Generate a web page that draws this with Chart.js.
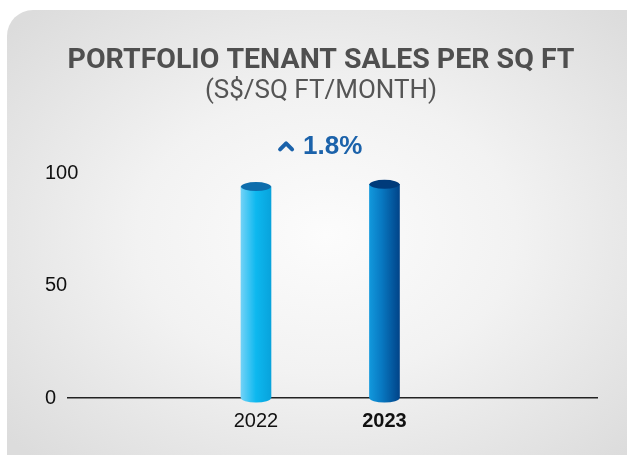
<!DOCTYPE html>
<html>
<head>
<meta charset="utf-8">
<script src="https://cdn.jsdelivr.net/npm/chart.js@4.4.1/dist/chart.umd.min.js"></script>
<style>
  html, body { margin: 0; padding: 0; background: #fff; overflow: hidden; }
  .card {
    position: absolute; left: 7px; top: 10px; width: 680px; height: 500px;
    border-radius: 26px;
    background: radial-gradient(ellipse 62% 62% at 47% 45%, #fcfcfc 0%, #f2f2f2 45%, #dcdcdc 100%);
  }
  #chart { position: absolute; left: 0; top: 0; }
</style>
</head>
<body>
<div class="card"><canvas id="chart" width="626" height="445"></canvas></div>
<script>
// values
const years = [2022, 2023];
const salesPerSqFt = [94, 95];
const yTicks = [0, 50, 100];
const growthLabel = '1.8%';
const titleText = 'PORTFOLIO TENANT SALES PER SQ FT';
const subtitleText = '(S$/SQ FT/MONTH)';

const bodyStops = [
    [[0, '#72d2f7'], [0.25, '#3ec5f3'], [0.5, '#0db8ef'], [1, '#08a3dc']],
    [[0, '#1298dc'], [0.4, '#0879c2'], [1, '#014489']],
];
const capColors = ['#0e6dac', '#003b7a'];

function bodyGradient(ctx, x, w, i) {
    const g = ctx.createLinearGradient(x - w / 2, 0, x + w / 2, 0);
    bodyStops[i].forEach(([p, c]) => g.addColorStop(p, c));
    return g;
}

const cylinderPlugin = {
    id: 'cylinder',
    afterDatasetsDraw(chart) {
        const ctx = chart.ctx;
        const meta = chart.getDatasetMeta(0);
        meta.data.forEach((bar, i) => {
            const w = bar.width, rx = w / 2, ry = 4.5;
            ctx.save();
            // rounded bottom
            ctx.beginPath();
            ctx.ellipse(bar.x, bar.base, rx, ry, 0, 0, Math.PI);
            ctx.fillStyle = bodyGradient(ctx, bar.x, w, i);
            ctx.fill();
            // top cap
            ctx.beginPath();
            ctx.ellipse(bar.x, bar.y, rx, ry, 0, 0, Math.PI * 2);
            ctx.fillStyle = capColors[i];
            ctx.fill();
            ctx.restore();
        });

        // growth annotation between the bars
        const xs = meta.data.map(b => b.x);
        const top = Math.min(...meta.data.map(b => b.y));
        const cx = (xs[0] + xs[1]) / 2;
        const cy = top - 39;
        ctx.save();
        ctx.font = 'bold 26px "Liberation Sans", Arial, sans-serif';
        const tw = ctx.measureText(growthLabel).width;
        const total = 16 + 9 + tw;
        const left = cx - total / 2;
        ctx.strokeStyle = '#1b62aa';
        ctx.lineWidth = 4;
        ctx.lineCap = 'round';
        ctx.lineJoin = 'round';
        ctx.beginPath();
        ctx.moveTo(left + 2, cy + 4);
        ctx.lineTo(left + 8, cy - 2);
        ctx.lineTo(left + 14, cy + 4);
        ctx.stroke();
        ctx.fillStyle = '#1b62aa';
        ctx.textBaseline = 'middle';
        ctx.textAlign = 'left';
        ctx.fillText(growthLabel, left + 25, cy + 1);
        ctx.restore();
    }
};

new Chart(document.getElementById('chart'), {
    type: 'bar',
    data: {
        datasets: [{
            data: years.map((y, i) => ({ x: y, y: salesPerSqFt[i] })),
            barThickness: 30,
            borderWidth: 0,
            backgroundColor: (c) => {
                const chart = c.chart;
                if (!chart.chartArea || c.dataIndex === undefined) return bodyStops[0][0][1];
                const x = chart.scales.x.getPixelForValue(years[c.dataIndex]);
                return bodyGradient(chart.ctx, x, 30, c.dataIndex);
            },
        }]
    },
    options: {
        responsive: false,
        animation: false,
        layout: { padding: { left: 38, right: 36, top: 0, bottom: 11 } },
        plugins: {
            legend: { display: false },
            tooltip: { enabled: false },
            title: {
                display: true,
                text: titleText,
                color: '#4f4f4f',
                font: { family: 'Roboto, "Liberation Sans", sans-serif', size: 28.5, weight: 'bold', lineHeight: 1.2 },
                padding: { top: 34, bottom: 0 },
            },
            subtitle: {
                display: true,
                text: subtitleText,
                color: '#555555',
                font: { family: 'Roboto, "Liberation Sans", sans-serif', size: 26, weight: 'normal', lineHeight: 1.15 },
                padding: { top: -2, bottom: 67 },
            },
        },
        scales: {
            x: {
                type: 'linear',
                offset: false,
                min: 2020.537,
                max: 2024.654,
                grid: { display: false, drawTicks: false },
                border: { display: true, color: '#222222', width: 1.5 },
                afterBuildTicks: (s) => { s.ticks = years.map(v => ({ value: v })); },
                ticks: {
                    padding: 11,
                    color: '#111111',
                    callback: (v) => String(v),
                    font: (c) => ({
                        family: '"Liberation Sans", Arial, sans-serif',
                        size: 20,
                        weight: c.tick && c.tick.value === years[1] ? 'bold' : 'normal',
                    }),
                },
            },
            y: {
                min: 0,
                max: 100,
                grid: { display: false, drawTicks: false },
                border: { display: false },
                afterBuildTicks: (s) => { s.ticks = yTicks.map(v => ({ value: v })); },
                afterFit: (s) => { s.width = 23; },
                ticks: {
                    mirror: true,
                    padding: -23,
                    color: '#111111',
                    font: { family: '"Liberation Sans", Arial, sans-serif', size: 20 },
                },
            },
        },
    },
    plugins: [cylinderPlugin],
});
</script>
</body>
</html>
